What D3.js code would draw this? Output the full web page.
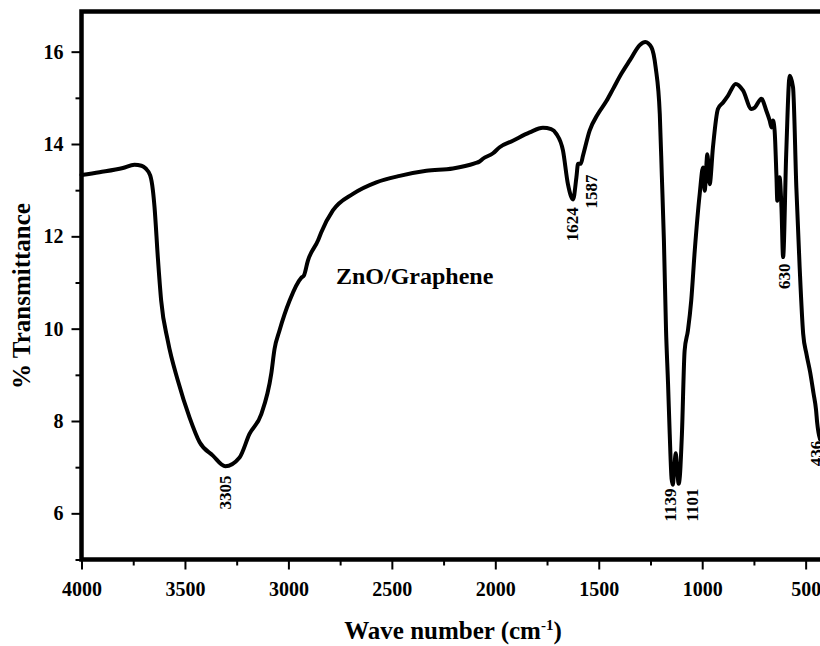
<!DOCTYPE html>
<html>
<head>
<meta charset="utf-8">
<script src="https://cdn.jsdelivr.net/npm/d3@7/dist/d3.min.js"></script>
<style>
  html, body { margin: 0; padding: 0; background: #fff; }
  svg { display: block; }
  text { font-family: "Liberation Serif", "Times New Roman", serif; font-weight: bold; fill: #000; }
</style>
</head>
<body>
<svg id="chart" width="820" height="646"></svg>
<script>
// ---- data ----
const wavenumber = [
  4000, 3913, 3800, 3744, 3710, 3690, 3668, 3655, 3647, 3631, 3615, 3583, 3534, 3478, 3429, 3365,
  3305, 3236, 3188, 3131, 3083, 3067, 3043, 2994, 2938, 2925, 2906, 2857, 2841, 2785, 2688, 2575,
  2462, 2333, 2205, 2100, 2076, 2060, 2011, 1979, 1915, 1834, 1770, 1730, 1705, 1673, 1649, 1624,
  1608, 1600, 1587, 1576, 1544, 1504, 1463, 1430, 1391, 1350, 1300, 1275, 1245, 1225, 1205, 1195,
  1185, 1175, 1165, 1157, 1148, 1142, 1136, 1128, 1120, 1114, 1108, 1098, 1085, 1069, 1053, 1036,
  1012, 996, 988, 975, 964, 948, 924, 899, 875, 838, 803, 762, 746, 714, 690, 674,
  665, 658, 650, 641, 637, 626, 617, 609, 594, 577, 561, 545, 529, 512, 496, 478,
  462, 450, 444, 438, 430
];
const transmittance = [
  13.33, 13.39, 13.48, 13.55, 13.53, 13.47, 13.32, 13.00, 12.63, 11.54, 10.61, 9.74, 8.87, 8.08, 7.54, 7.25,
  7.02, 7.21, 7.72, 8.15, 9.02, 9.56, 9.96, 10.61, 11.10, 11.15, 11.47, 11.91, 12.09, 12.56, 12.92, 13.17,
  13.31, 13.42, 13.47, 13.58, 13.62, 13.68, 13.80, 13.93, 14.07, 14.25, 14.35, 14.32, 14.22, 13.86, 13.13, 12.80,
  13.28, 13.57, 13.57, 13.75, 14.29, 14.65, 14.93, 15.20, 15.52, 15.81, 16.15, 16.21, 16.09, 15.66, 14.65, 13.30,
  11.90, 10.00, 8.80, 7.72, 6.75, 6.62, 6.90, 7.30, 6.90, 6.64, 6.80, 7.72, 9.52, 9.96, 10.61, 11.69,
  12.92, 13.49, 12.99, 13.78, 13.13, 13.93, 14.76, 14.90, 15.05, 15.30, 15.16, 14.76, 14.79, 14.98, 14.72, 14.51,
  14.36, 14.51, 14.29, 13.28, 12.77, 13.28, 12.63, 11.55, 13.78, 15.48, 15.23, 13.06, 11.33, 9.89, 9.45, 9.05,
  8.60, 8.25, 7.95, 7.75, 7.60
];
const xTicks = [4000, 3500, 3000, 2500, 2000, 1500, 1000, 500];
const xMinorTicks = [3750, 3250, 2750, 2250, 1750, 1250, 750];
const yTicks = [6, 8, 10, 12, 14, 16];
const yMinorTicks = [5, 7, 9, 11, 13, 15];
// peak annotations: label text, wavenumber / transmittance where the label's top sits
const peakLabels = ["3305", "1624", "1587", "1139", "1101", "630", "436"];
const peakLabelW = [3304, 1628, 1539, 1154, 1049, 606, 448];
const peakLabelT = [6.82, 12.63, 13.34, 6.54, 6.54, 11.41, 7.57];
const sampleName = "ZnO/Graphene";

// ---- layout ----
const svg = d3.select("#chart");
const plotLeft = 81.5, plotTop = 11.5, plotBottom = 559.5;
const x = d3.scaleLinear().domain([4000, 400]).range([plotLeft, plotLeft + 3600 * 0.2069]);
const y = d3.scaleLinear().domain([5, 16.87]).range([plotBottom, plotTop]);

// frame
svg.append("rect")
  .attr("x", x(4000)).attr("y", y(16.87))
  .attr("width", x(400) - x(4000)).attr("height", y(5) - y(16.87))
  .attr("fill", "none").attr("stroke", "#000").attr("stroke-width", 4.5);

// x axis
const gx = svg.append("g").attr("transform", `translate(0,${plotBottom})`)
  .call(d3.axisBottom(x).tickValues(xTicks).tickSize(10).tickFormat(d3.format("d")));
gx.select(".domain").remove();
gx.selectAll("line").attr("stroke-width", 2);
gx.selectAll("text").attr("y", 22).attr("dy", "0.71em").style("font-size", "20px");
const gxm = svg.append("g").attr("transform", `translate(0,${plotBottom})`)
  .call(d3.axisBottom(x).tickValues(xMinorTicks).tickSize(6).tickFormat(""));
gxm.select(".domain").remove();
gxm.selectAll("line").attr("stroke-width", 2);

// y axis
const gy = svg.append("g").attr("transform", `translate(${plotLeft},0)`)
  .call(d3.axisLeft(y).tickValues(yTicks).tickSize(10).tickPadding(8));
gy.select(".domain").remove();
gy.selectAll("line").attr("stroke-width", 2);
gy.selectAll("text").style("font-size", "20px");
const gym = svg.append("g").attr("transform", `translate(${plotLeft},0)`)
  .call(d3.axisLeft(y).tickValues(yMinorTicks).tickSize(6).tickFormat(""));
gym.select(".domain").remove();
gym.selectAll("line").attr("stroke-width", 2);

// spectrum
const data = wavenumber.map((w, i) => ({ w, t: transmittance[i] }));
const line = d3.line().x(d => x(d.w)).y(d => y(d.t)).curve(d3.curveMonotoneX);
svg.append("path").datum(data)
  .attr("d", line)
  .attr("fill", "none").attr("stroke", "#000").attr("stroke-width", 4)
  .attr("stroke-linejoin", "round").attr("stroke-linecap", "round");

// peak labels
peakLabels.forEach((lab, i) => {
  svg.append("text")
    .attr("transform", `translate(${x(peakLabelW[i])},${y(peakLabelT[i])}) rotate(-90)`)
    .attr("text-anchor", "end").attr("dy", "0.35em")
    .style("font-size", "17px").text(lab);
});

// sample name
svg.append("text").attr("x", 336).attr("y", 284).style("font-size", "24px").text(sampleName);

// axis titles
const xt = svg.append("text").attr("x", 453).attr("y", 639).attr("text-anchor", "middle").style("font-size", "25px");
xt.append("tspan").text("Wave number (cm");
xt.append("tspan").attr("dy", -9).style("font-size", "15px").text("-1");
xt.append("tspan").attr("dy", 9).text(")");

svg.append("text")
  .attr("transform", `translate(30,296) rotate(-90)`)
  .attr("text-anchor", "middle").style("font-size", "25px")
  .text("% Transmittance");
</script>
</body>
</html>
